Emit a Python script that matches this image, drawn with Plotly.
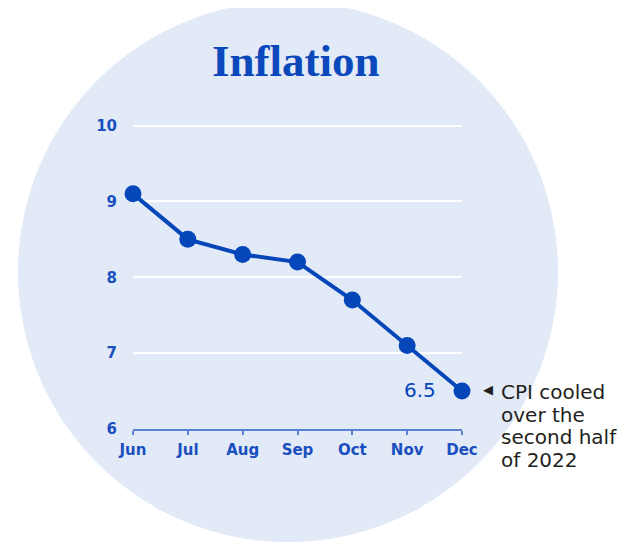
import plotly.graph_objects as go

months = ["Jun", "Jul", "Aug", "Sep", "Oct", "Nov", "Dec"]
cpi = [9.1, 8.5, 8.3, 8.2, 7.7, 7.1, 6.5]
y_ticks = [6, 7, 8, 9, 10]
title_text = "Inflation"
note_lines = ["CPI cooled", "over the", "second half", "of 2022"]

W, H = 628, 542
OFF = 8  # page body margin
# reference pixel positions of the plot frame
X0, X1 = 133, 462      # Jun, Dec
Y6, Y10 = 429, 126     # y=6, y=10
YMIN, YMAX = 6, 10.06
per = (Y6 - Y10) / 4.0
L, R = X0 - OFF, X1 - OFF
B = Y6 - OFF
T = Y6 - (YMAX - YMIN) * per - OFF

BLUE = "#0546b9"
TICKBLUE = "#1a4fc0"
BG = "#e2eaf7"
SANS = "DejaVu Sans, sans-serif"


def px_x(p):
    return (p - OFF - L) / (R - L)


def px_y(p):
    return (B - (p - OFF)) / (B - T)


fig = go.Figure()
fig.add_trace(go.Scatter(
    x=list(range(len(months))), y=cpi, mode="lines+markers",
    line=dict(color=BLUE, width=4),
    marker=dict(color=BLUE, size=17),
    cliponaxis=False, hoverinfo="skip", showlegend=False,
))

# background circle
cx, cy, r = 288, 272, 270
fig.add_shape(type="circle", xref="paper", yref="paper",
              x0=px_x(cx - r), x1=px_x(cx + r), y0=px_y(cy + r), y1=px_y(cy - r),
              fillcolor=BG, line=dict(width=0), layer="below")

fig.add_annotation(xref="paper", yref="paper", x=px_x(296), y=px_y(62),
                   text=f"<b>{title_text}</b>", showarrow=False,
                   xanchor="center", yanchor="middle",
                   font=dict(family="Liberation Serif, serif", size=45, color="#0a48bb"))

last = len(cpi) - 1
fig.add_annotation(x=last, y=cpi[-1], text=f"{cpi[-1]}", showarrow=False,
                   xanchor="right", yanchor="middle", xshift=-24, yshift=1,
                   font=dict(family=SANS, size=20, color=BLUE))

fig.add_annotation(x=last, y=cpi[-1], text="◀", showarrow=False,
                   xanchor="center", yanchor="middle", xshift=26, yshift=2,
                   font=dict(family="DejaVu Sans", size=13, color="#222222"))

for i, line in enumerate(note_lines):
    fig.add_annotation(x=last, y=cpi[-1], text=line, showarrow=False,
                       xanchor="left", yanchor="middle", align="left",
                       xshift=37, yshift=-1 - 22.7 * i,
                       font=dict(family=SANS, size=20, color="#231f20"))

fig.update_xaxes(
    range=[0, len(months) - 1], tickvals=list(range(len(months))), ticktext=months,
    showgrid=False, zeroline=False, showline=True, linecolor="#5a82d4", linewidth=1.5,
    ticks="outside", ticklen=4, tickcolor="#5a82d4", tickwidth=1.5,
    ticklabelstandoff=2,
    tickfont=dict(family=SANS, size=15, color=TICKBLUE, weight=700),
    fixedrange=True,
)
fig.update_yaxes(
    range=[YMIN, YMAX], tickvals=y_ticks, showgrid=True, gridcolor="white", gridwidth=2,
    zeroline=False, showline=False, ticks="", ticklabelstandoff=15,
    tickfont=dict(family=SANS, size=15, color=TICKBLUE, weight=700),
    fixedrange=True,
)
fig.update_layout(
    width=W, height=H, autosize=False,
    margin=dict(l=L, r=W - R, t=T, b=H - B, pad=0),
    paper_bgcolor="white", plot_bgcolor="rgba(0,0,0,0)",
)
fig.write_html("out.html")
